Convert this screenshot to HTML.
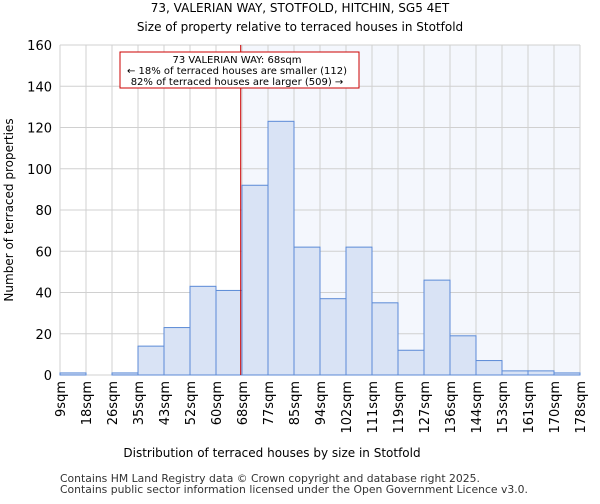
<!DOCTYPE html>
<html><head><meta charset="utf-8"><style>
body{margin:0;background:#fff;font-family:"DejaVu Sans","Liberation Sans",sans-serif}
</style></head><body>
<svg id="c" width="600" height="500" xmlns="http://www.w3.org/2000/svg" font-family="DejaVu Sans, Liberation Sans, sans-serif">
<text x="300" y="12" text-anchor="middle" font-size="12">73, VALERIAN WAY, STOTFOLD, HITCHIN, SG5 4ET</text>
<text x="300" y="31" text-anchor="middle" font-size="12">Size of property relative to terraced houses in Stotfold</text>
<g id="plot"></g>
<text x="272" y="457" text-anchor="middle" font-size="12">Distribution of terraced houses by size in Stotfold</text>
<text transform="translate(13,210) rotate(-90)" text-anchor="middle" font-size="12">Number of terraced properties</text>
<text x="60" y="482" font-size="10.8" fill="#333">Contains HM Land Registry data © Crown copyright and database right 2025.</text>
<text x="60" y="493" font-size="10.8" fill="#333">Contains public sector information licensed under the Open Government Licence v3.0.</text>
</svg>
<script>
const categories=["9sqm","18sqm","26sqm","35sqm","43sqm","52sqm","60sqm","68sqm","77sqm","85sqm","94sqm","102sqm","111sqm","119sqm","127sqm","136sqm","144sqm","153sqm","161sqm","170sqm","178sqm"];
const counts=[1,0,1,14,23,43,41,92,123,62,37,62,35,12,46,19,7,2,2,1];
const yTicks=[0,20,40,60,80,100,120,140,160];
const markerBin=6.95;
const NS="http://www.w3.org/2000/svg";
const g=document.getElementById('plot');
const X0=60,X1=580,Y0=375,Y1=45,YMAX=160;
const bw=(X1-X0)/counts.length;
const xs=i=>X0+i*bw;
const ys=v=>Y0-(v/YMAX)*(Y0-Y1);
function mk(t,a){const e=document.createElementNS(NS,t);for(const k in a)e.setAttribute(k,a[k]);g.appendChild(e);return e;}
const mx=xs(markerBin);
let e=mk('rect',{x:mx,y:Y1,width:X1-mx,height:Y0-Y1,fill:'#f4f7fd'});


for(let i=0;i<=counts.length;i++){const l=mk('line',{x1:xs(i),x2:xs(i),y1:Y1,y2:Y0,stroke:'#d0d0d0','stroke-width':1});

}
yTicks.forEach(v=>{const l=mk('line',{x1:X0,x2:X1,y1:ys(v),y2:ys(v),stroke:'#d0d0d0','stroke-width':1});


const t=mk('text',{x:X0-8,y:ys(v)+5,'text-anchor':'end','font-size':13});t.textContent=v;

});
counts.forEach((v,i)=>{const r=mk('rect',{x:xs(i),y:ys(v),width:bw,height:Y0-ys(v),fill:'#d9e3f5',stroke:'#5b8ad6','stroke-width':1});

});
categories.forEach((c,i)=>{const t=mk('text',{transform:`translate(${xs(i)+5},381) rotate(-90)`,'text-anchor':'end','font-size':13});t.textContent=c;

});
e=mk('line',{x1:mx,x2:mx,y1:Y1,y2:Y0,stroke:'#cc0000','stroke-width':1});


e=mk('rect',{x:120,y:52,width:239,height:36,fill:'#fff',stroke:'#cc0000','stroke-width':1});


[["73 VALERIAN WAY: 68sqm",63],["← 18% of terraced houses are smaller (112)",74],["82% of terraced houses are larger (509) →",85]].forEach(([s,y])=>{const t=mk('text',{x:237,y:y,'text-anchor':'middle','font-size':10});t.textContent=s;

});
</script>
</body></html>
